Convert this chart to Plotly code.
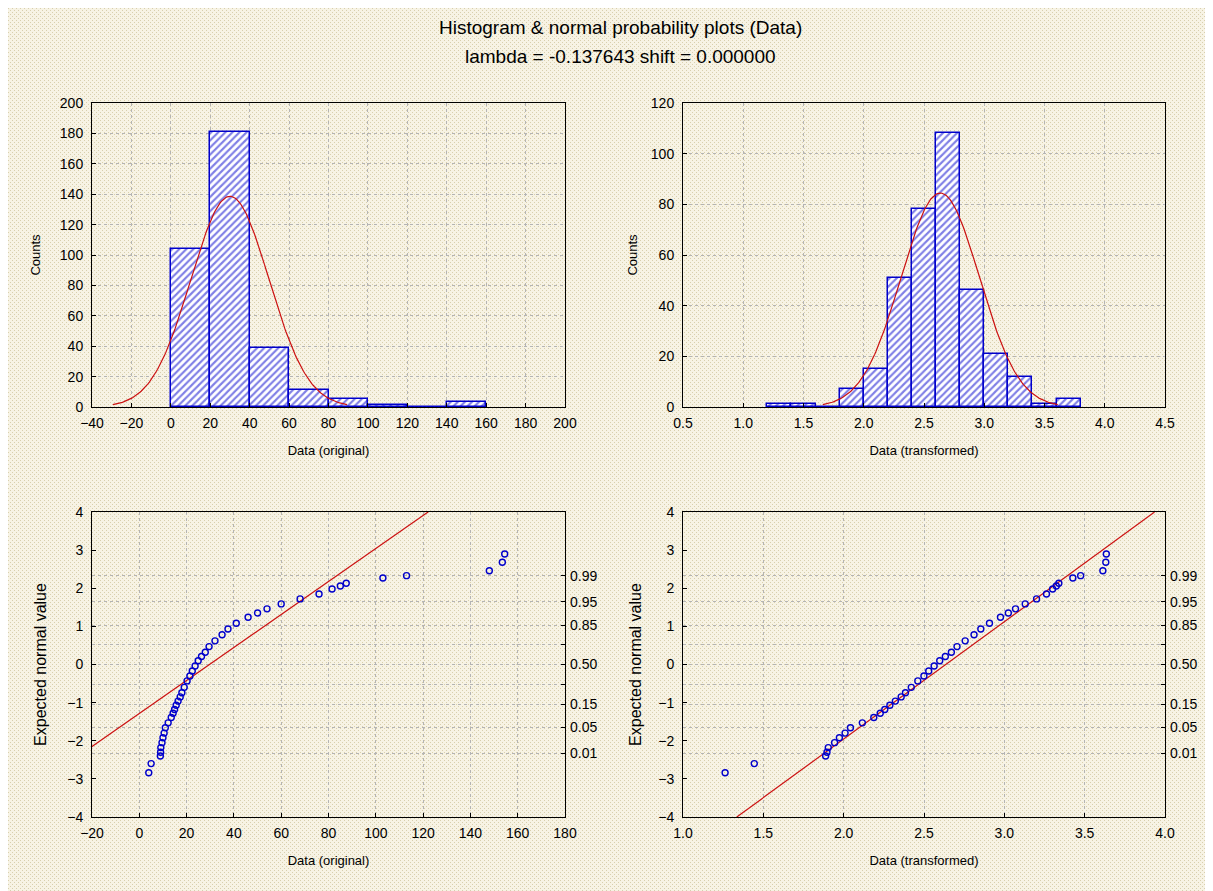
import base64
import numpy as np
import plotly.graph_objects as go

# ---------------- data ----------------
# histogram of original data (bin edges width 20)
orig_bin_left = [0, 20, 40, 60, 80, 100, 120, 140]
orig_counts = [104, 181, 39, 11, 5, 1, 0, 3]
orig_bin_width = 20

# histogram of transformed data (bin edges width 0.2)
trans_bin_left = [1.2, 1.4, 1.6, 1.8, 2.0, 2.2, 2.4, 2.6, 2.8, 3.0, 3.2, 3.4, 3.6]
trans_counts = [1, 1, 0, 7, 15, 51, 78, 108, 46, 21, 12, 1, 3]
trans_bin_width = 0.2

n_total = 344
lam = -0.137643
shift = 0.0

orig_mean, orig_sd_hist = 30.0, 19.8
orig_sd_line = 23.1
orig_mean_line = 29.7
trans_mean, trans_sd = 2.635, 0.325

# normal probability plot: sorted original values and expected normal values
qq_orig = [4.0, 5.0, 8.9, 9.0, 9.1, 9.6, 10.0, 10.5, 11.0, 12.2, 13.5, 14.3, 14.9,
           15.6, 16.4, 17.3, 18.0, 19.0, 20.2, 21.4, 22.4, 23.6, 24.9, 26.3, 27.9,
           29.5, 32.0, 35.0, 37.5, 41.0, 46.0, 50.0, 54.0, 60.0, 68.0, 76.0, 81.5,
           85.0, 87.5, 103.0, 113.0, 148.0, 153.5, 154.5]
qq_z = [-2.84, -2.60, -2.40, -2.30, -2.18, -2.05, -1.92, -1.80, -1.66, -1.53, -1.39,
        -1.28, -1.18, -1.07, -0.96, -0.85, -0.74, -0.60, -0.43, -0.30, -0.17, -0.04,
        0.10, 0.21, 0.32, 0.47, 0.62, 0.78, 0.93, 1.08, 1.24, 1.35, 1.46, 1.59, 1.72,
        1.85, 1.98, 2.06, 2.13, 2.27, 2.33, 2.46, 2.68, 2.90]

prob_labels = ["0.01", "0.05", "0.15", "", "0.50", "", "0.85", "0.95", "0.99"]
prob_z = [-2.326, -1.645, -1.036, -0.524, 0.0, 0.524, 1.036, 1.645, 2.326]

title1 = "Histogram & normal probability plots (Data)"
title2 = "lambda = -0.137643 shift = 0.000000"

# ---------------- helpers ----------------
BLUE = "#0000cc"
RED = "#cc1111"
FONT = "Liberation Sans Narrow, Arial Narrow, Liberation Sans, Arial, sans-serif"
GRID = "#b4b4b4"

def boxcox(v):
    return [((x + shift) ** lam - 1) / lam for x in v]

def normal_curve(mean, sd, n, bw, lo, hi):
    xs = np.linspace(lo, hi, 200)
    ys = n * bw / (sd * np.sqrt(2 * np.pi)) * np.exp(-0.5 * ((xs - mean) / sd) ** 2)
    return xs, ys

fig = go.Figure()

bar_marker = dict(color="white", line=dict(color=BLUE, width=1.5),
                  pattern=dict(shape="/", fgcolor=BLUE, bgcolor="white", size=5, solidity=0.42))

# top-left histogram
fig.add_trace(go.Bar(
    x=[b + orig_bin_width / 2 for b in orig_bin_left], y=orig_counts, width=orig_bin_width,
    marker=bar_marker, xaxis="x", yaxis="y", showlegend=False))
cx, cy = normal_curve(orig_mean, orig_sd_hist, n_total, orig_bin_width,
                      orig_mean - 3 * orig_sd_hist, orig_mean + 3 * orig_sd_hist)
fig.add_trace(go.Scatter(x=cx, y=cy, mode="lines", line=dict(color=RED, width=1.2),
                         xaxis="x", yaxis="y", showlegend=False))

# top-right histogram
fig.add_trace(go.Bar(
    x=[b + trans_bin_width / 2 for b in trans_bin_left], y=trans_counts, width=trans_bin_width,
    marker=bar_marker, xaxis="x2", yaxis="y2", showlegend=False))
cx, cy = normal_curve(trans_mean, trans_sd, n_total, trans_bin_width,
                      trans_mean - 3 * trans_sd, trans_mean + 3 * trans_sd)
fig.add_trace(go.Scatter(x=cx, y=cy, mode="lines", line=dict(color=RED, width=1.2),
                         xaxis="x2", yaxis="y2", showlegend=False))

qq_marker = dict(symbol="circle-open", size=6, color=BLUE, line=dict(width=1.4, color=BLUE))

# bottom-left normal probability plot
fig.add_trace(go.Scatter(
    x=[orig_mean_line - 4 * orig_sd_line, orig_mean_line + 4 * orig_sd_line], y=[-4, 4],
    mode="lines", line=dict(color=RED, width=1.2), xaxis="x3", yaxis="y3", showlegend=False))
fig.add_trace(go.Scatter(x=qq_orig, y=qq_z, mode="markers", marker=qq_marker,
                         xaxis="x3", yaxis="y3", showlegend=False))
fig.add_trace(go.Scatter(x=[None], y=[None], xaxis="x3", yaxis="y5", showlegend=False))

# bottom-right normal probability plot
fig.add_trace(go.Scatter(
    x=[trans_mean - 4 * trans_sd, trans_mean + 4 * trans_sd], y=[-4, 4],
    mode="lines", line=dict(color=RED, width=1.2), xaxis="x4", yaxis="y4", showlegend=False))
fig.add_trace(go.Scatter(x=boxcox(qq_orig), y=qq_z, mode="markers", marker=qq_marker,
                         xaxis="x4", yaxis="y4", showlegend=False))
fig.add_trace(go.Scatter(x=[None], y=[None], xaxis="x4", yaxis="y6", showlegend=False))

# page body has an 8px margin; the figure is sized to fill the rest of the window
OFF = 8
W, H = 1213 - OFF, 891 - OFF
def xd(a, b):
    return [(a - OFF) / W, (b - OFF) / W]
def yd(top, bottom):
    return [1 - (bottom - OFF) / H, 1 - (top - OFF) / H]

tickfont = dict(family=FONT, size=14, color="black")
titlefont = dict(family=FONT, size=13, color="black")
bigtitlefont = dict(family=FONT, size=16, color="black")

def xax(dom, rng, dtick, title, anchor, fmt=None):
    d = dict(domain=dom, range=rng, dtick=dtick, tick0=rng[0], anchor=anchor,
             automargin=False,
             showline=True, linecolor="black", linewidth=1, mirror=True,
             ticks="inside", ticklen=4, tickcolor="black", ticklabelstandoff=3,
             showgrid=True, gridcolor=GRID, griddash="dot", gridwidth=1,
             zeroline=False, tickfont=tickfont,
             title=dict(text=title, font=titlefont, standoff=16))
    if fmt:
        d["tickformat"] = fmt
    return d

def yax(dom, rng, dtick, title, anchor, grid=True, standoff=10, tfont=titlefont):
    return dict(domain=dom, range=rng, dtick=dtick, tick0=rng[0], anchor=anchor,
                automargin=False,
                showline=True, linecolor="black", linewidth=1, mirror=True,
                ticks="inside", ticklen=4, tickcolor="black", ticklabelstandoff=5,
                showgrid=grid, gridcolor=GRID, griddash="dot", gridwidth=1,
                zeroline=False, tickfont=tickfont,
                title=dict(text=title, font=tfont, standoff=standoff))

def rax(over, anchor):
    return dict(overlaying=over, side="right", anchor=anchor, range=[-4, 4],
                automargin=False,
                tickmode="array", tickvals=prob_z, ticktext=prob_labels,
                ticks="inside", ticklen=4, tickcolor="black", showline=False,
                ticklabelstandoff=4,
                showgrid=True, gridcolor=GRID, griddash="dot", zeroline=False,
                tickfont=tickfont)

row1 = yd(103, 407)
row2 = yd(512, 817)
col1 = xd(92, 565)
col2 = xd(683, 1165)

svg = ('<svg xmlns="http://www.w3.org/2000/svg" width="1205" height="883">'
       '<defs><pattern id="p" width="4" height="4" patternUnits="userSpaceOnUse">'
       '<rect width="4" height="4" fill="#f7f3e4"/>'
       '<rect x="0" y="0" width="1" height="1" fill="#d8cfad"/>'
       '<rect x="2" y="2" width="1" height="1" fill="#d8cfad"/>'
       '</pattern></defs><rect width="1205" height="883" fill="url(#p)"/></svg>')
src = "data:image/svg+xml;base64," + base64.b64encode(svg.encode()).decode()

fig.update_layout(
    width=W, height=H,
    margin=dict(l=0, r=0, t=0, b=0, autoexpand=False),
    paper_bgcolor="#f2eddb", plot_bgcolor="white",
    bargap=0, barmode="overlay",
    font=dict(family=FONT, size=13, color="black"),
    xaxis=xax(col1, [-40, 200], 20, "Data (original)", "y"),
    yaxis=yax(row1, [0, 200], 20, "Counts", "x", standoff=16),
    xaxis2=xax(col2, [0.5, 4.5], 0.5, "Data (transformed)", "y2", ".1f"),
    yaxis2=yax(row1, [0, 120], 20, "Counts", "x2", standoff=10),
    xaxis3=xax(col1, [-20, 180], 20, "Data (original)", "y3"),
    yaxis3=yax(row2, [-4, 4], 1, "Expected normal value", "x3", grid=False, standoff=16,
               tfont=bigtitlefont),
    xaxis4=xax(col2, [1.0, 4.0], 0.5, "Data (transformed)", "y4", ".1f"),
    yaxis4=yax(row2, [-4, 4], 1, "Expected normal value", "x4", grid=False, standoff=12,
               tfont=bigtitlefont),
    yaxis5=rax("y3", "x3"),
    yaxis6=rax("y4", "x4"),
    images=[dict(source=src, xref="paper", yref="paper", x=0, y=1, sizex=1, sizey=1,
                 sizing="stretch", layer="below", xanchor="left", yanchor="top")],
    annotations=[
        dict(text=title1, x=(620 - OFF) / W, y=1 - (27 - OFF) / H, xref="paper", yref="paper",
             xanchor="center", yanchor="middle",
             showarrow=False, font=dict(family=FONT, size=19, color="black")),
        dict(text=title2, x=(620 - OFF) / W, y=1 - (57 - OFF) / H, xref="paper", yref="paper",
             xanchor="center", yanchor="middle",
             showarrow=False, font=dict(family=FONT, size=19, color="black")),
    ],
)

fig.write_html("out.html")
